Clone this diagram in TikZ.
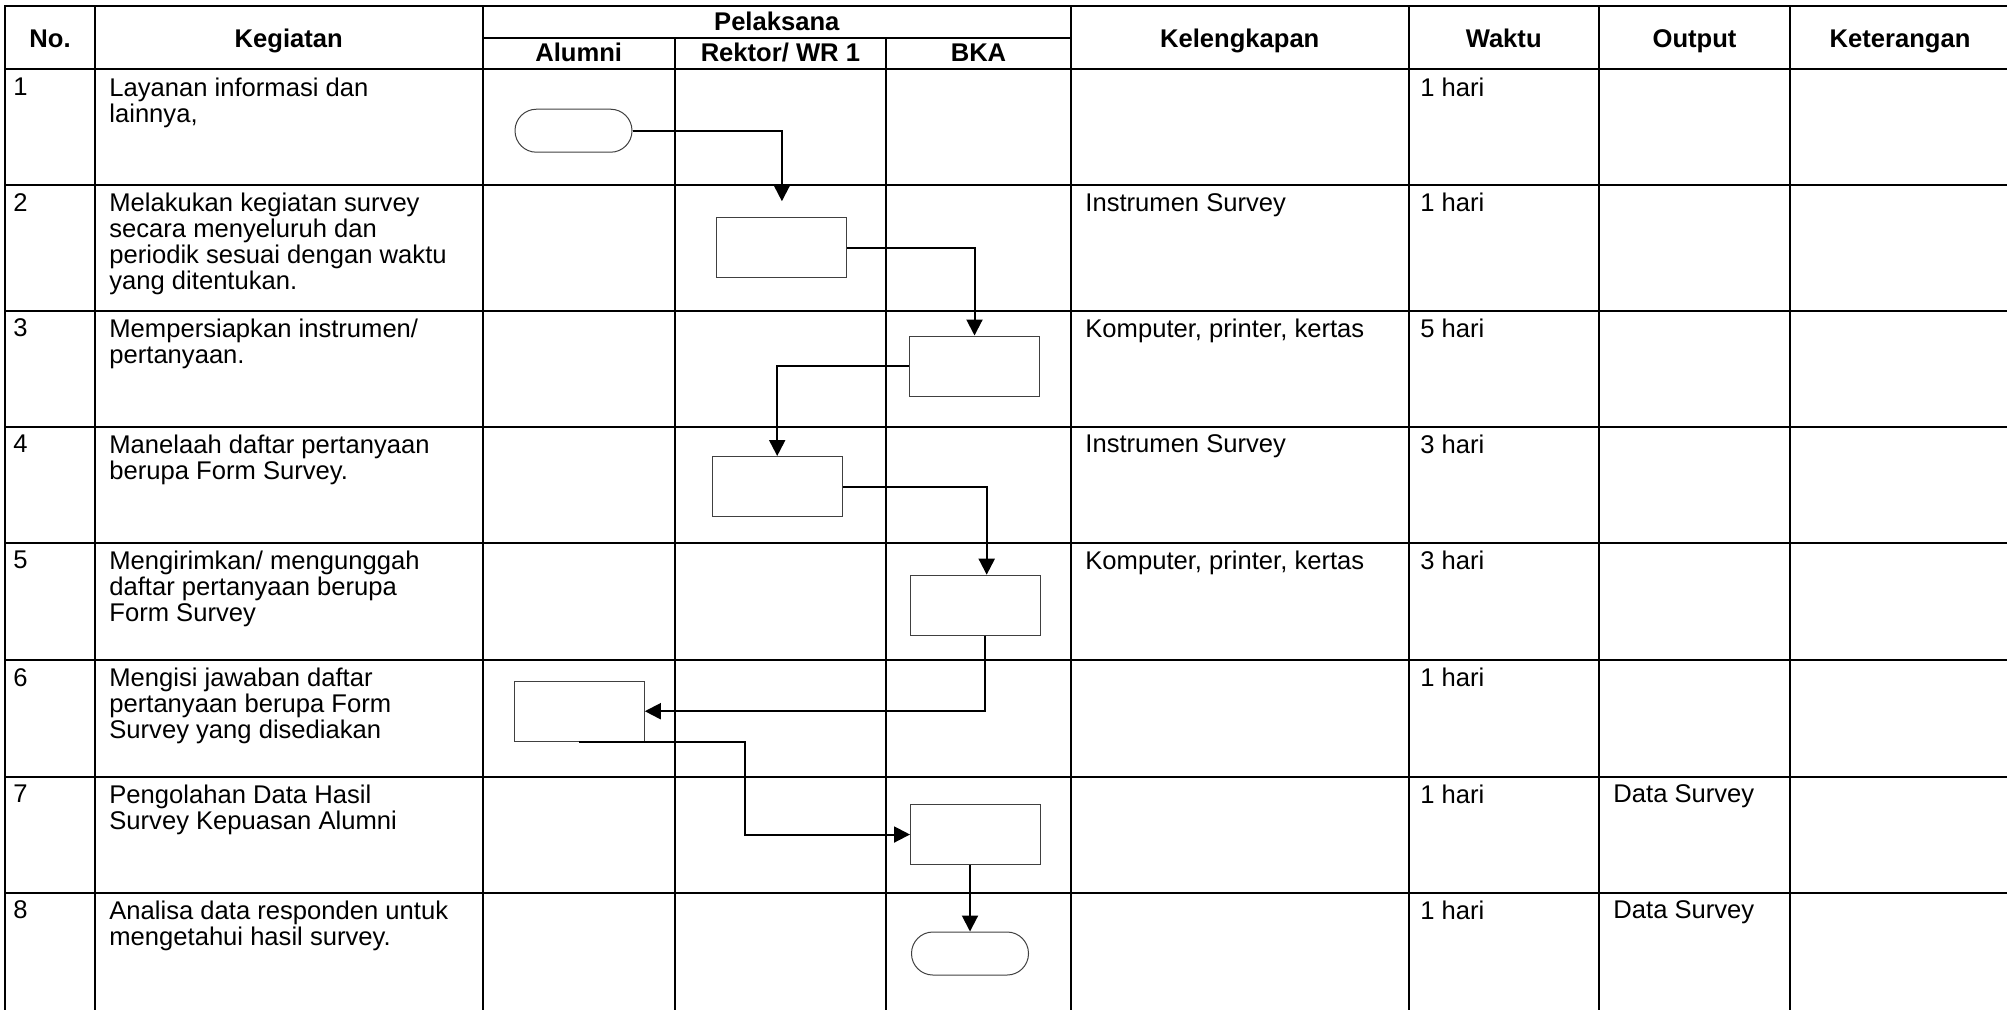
\documentclass[tikz,border=0pt]{standalone}
\usepackage{fontspec}
\setmainfont{Liberation Sans}
\usetikzlibrary{arrows.meta,positioning}
\tikzset{
	grid line/.style = {line width = 1pt, line cap = rect},
	cell/.style = {anchor = north west, inner sep = 0pt, align = left, font = \fontsize{12.8}{12.9}\selectfont},
	head/.style = {anchor = base, inner sep = 0pt, font = \bfseries\fontsize{12.8}{12.9}\selectfont},
	process/.style = {draw = black!75, line width = 0.5pt, minimum width = 65pt, minimum height = 30pt, inner sep = 0pt},
	terminal/.style = {draw = black!75, line width = 0.5pt, rounded corners = 10.7pt, minimum width = 58.5pt, minimum height = 21.5pt, inner sep = 0pt},
	flow/.style = {line width = 1pt, -{Triangle[length = 8pt, width = 8pt]}}
}

\begin{document}
\begin{tikzpicture}[x = 0.5pt, y = -0.5pt]
        \useasboundingbox (0,0) rectangle (2007,1009);
        \clip (0,0) rectangle (2007,1009);

        % Table
        \foreach \y in {6, 69.3, 185, 310.7, 426.7, 542.7, 660, 776.7, 892.7}
            \draw [grid line] (5,\y) -- (2020,\y);
        \foreach \x in {5, 95, 482.6, 1071, 1408.5, 1599, 1790}
            \draw [grid line] (\x,6) -- (\x,1020);
        \draw [grid line] (482.6,37.7) -- (1071,37.7);
        \draw [grid line] (674.8,37.7) -- (674.8,1020);
        \draw [grid line] (886,37.7) -- (886,1020);

        % Header
        \node (h_no) [head] at (50,47) {No.};
        \node (h_kegiatan) [head] at (288.8,47) {Kegiatan};
        \node (h_pelaksana) [head] at (776.8,30) {Pelaksana};
        \node (h_alumni) [head] at (578.7,61.5) {Alumni};
        \node (h_rektor) [head] at (780.4,61.5) {Rektor/ WR 1};
        \node (h_bka) [head] at (978.5,61.5) {BKA};
        \node (h_kelengkapan) [head] at (1239.7,47) {Kelengkapan};
        \node (h_waktu) [head] at (1503.7,47) {Waktu};
        \node (h_output) [head] at (1694.5,47) {Output};
        \node (h_keterangan) [head] at (1900,47) {Keterangan};

        % Rows
        \foreach \n/\y/\w in {1/77.3/1, 2/193/1, 3/318.7/5, 4/434.7/3, 5/550.7/3, 6/668/1, 7/784.7/1, 8/900.7/1} {
            \node (no_\n) [cell] at (13,\y) {\n};
            \node (waktu_\n) [cell] at (1420,\y) {\w\ hari};
        }
        \node (kegiatan_1) [cell] at (109,77.3) {Layanan informasi dan\\lainnya,};
        \node (kegiatan_2) [cell] at (109,193) {Melakukan kegiatan survey\\secara menyeluruh dan\\periodik sesuai dengan waktu\\yang ditentukan.};
        \node (kegiatan_3) [cell] at (109,318.7) {Mempersiapkan instrumen/\\pertanyaan.};
        \node (kegiatan_4) [cell] at (109,434.7) {Manelaah daftar pertanyaan\\berupa Form Survey.};
        \node (kegiatan_5) [cell] at (109,550.7) {Mengirimkan/ mengunggah\\daftar pertanyaan berupa\\Form Survey};
        \node (kegiatan_6) [cell] at (109,668) {Mengisi jawaban daftar\\pertanyaan berupa Form\\Survey yang disediakan};
        \node (kegiatan_7) [cell] at (109,784.7) {Pengolahan Data Hasil\\Survey Kepuasan Alumni};
        \node (kegiatan_8) [cell] at (109,900.7) {Analisa data responden untuk\\mengetahui hasil survey.};
        \node (kelengkapan_2) [cell] at (1085,193) {Instrumen Survey};
        \node (kelengkapan_3) [cell] at (1085,318.7) {Komputer, printer, kertas};
        \node (kelengkapan_4) [cell] at (1085,434.7) {Instrumen Survey};
        \node (kelengkapan_5) [cell] at (1085,550.7) {Komputer, printer, kertas};
        \node (output_7) [cell] at (1613,784.7) {Data Survey};
        \node (output_8) [cell] at (1613,900.7) {Data Survey};

        % Nodes
        \node (start) [terminal] at (573.5,130.7) {};
        \node (survey) [process] at (781.9,247.7) {};
        \node (instrumen) [process] at (974.5,366) {};
        \node (telaah) [process] at (777.2,486.5) {};
        \node (unggah) [process] at (975.7,605.2) {};
        \node (isi) [process] at (579.3,711.2) {};
        \node (olah) [process] at (975.5,834.5) {};
        \node (finish) [terminal] at (970,953.5) {};

        % Arrows
        \draw [flow, shorten >= 8pt] (start) -| (survey);
        \draw [flow] (survey) -| (instrumen);
        \draw [flow] (instrumen) -| (telaah);
        \draw [flow] (telaah) -| ([xshift = 5.5pt]unggah.north);
        \draw [flow] ([xshift = 4.8pt]unggah.south) |- (isi);
        \draw [flow] (isi.south) -- ++(166,0) |- (olah);
        \draw [flow] (finish.north |- olah.south) -- (finish);
\end{tikzpicture}
\end{document}
